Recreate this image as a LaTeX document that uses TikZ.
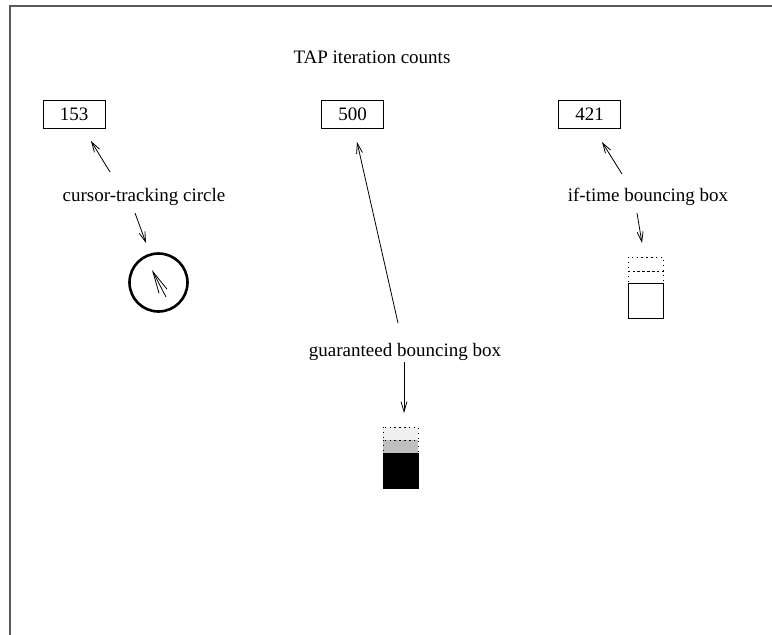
\documentclass[tikz,border=0pt]{standalone}
\usepackage{fontspec}
\setmainfont{Liberation Serif}
\usetikzlibrary{arrows.meta}
\begin{document}
\begin{tikzpicture}[x=1pt,y=-1pt,
  lbl/.style={font=\fontsize{19}{22}\selectfont, inner sep=0pt},
  numbox/.style={draw, line width=0.9pt, minimum width=62pt, minimum height=28pt, inner sep=0pt, font=\fontsize{19}{22}\selectfont},
  arr/.style={line width=0.8pt, -{Straight Barb[length=10pt,width=6pt]}},
  frameline/.style={line width=2pt, draw={black!65}},
  dotbox/.style={draw, line width=1pt, dash pattern=on 1.3pt off 3.6pt},
  solbox/.style={draw, line width=0.9pt}
]
\useasboundingbox (0,0) rectangle (772,635);
% frame (left and top edges)
\draw[frameline] (10,635) -- (10,6) -- (772,6);

% title
\node[lbl] (title) at (372,57) {TAP iteration counts};

% count boxes
\node[numbox] (b153) at (74,114) {153};
\node[numbox] (b500) at (352.5,114) {500};
\node[numbox] (b421) at (589.5,114) {421};

% labels
\node[lbl] (lcirc) at (144,197) {cursor-tracking circle};
\node[lbl] (lguar) at (405,352) {guaranteed bouncing box};
\node[lbl] (lif) at (648,197) {if-time bouncing box};

% circle
\node[draw, circle, line width=2.6pt, minimum size=58pt, inner sep=0pt] (circ) at (158.5,282.5) {};
\coordinate (cin1) at (166,297);
\coordinate (cin2) at (152,270);
\draw[line width=0.8pt, -{Straight Barb[length=22pt,width=9pt]}] (cin1) -- (cin2);

% arrow end points
\coordinate (a1s) at (110,172); \coordinate (a1e) at (91,141);
\coordinate (a2s) at (135,213); \coordinate (a2e) at (146,243);
\coordinate (a3s) at (398,323); \coordinate (a3e) at (357,142);
\coordinate (a4s) at (404,362); \coordinate (a4e) at (404,413);
\coordinate (a5s) at (622,174); \coordinate (a5e) at (602,142);
\coordinate (a6s) at (637,213); \coordinate (a6e) at (642,243);
\draw[arr] (a1s) -- (a1e);
\draw[arr] (a2s) -- (a2e);
\draw[arr] (a3s) -- (a3e);
\draw[arr] (a4s) -- (a4e);
\draw[arr] (a5s) -- (a5e);
\draw[arr] (a6s) -- (a6e);

% guaranteed bouncing box stack
\fill[black!6] (383,427) rectangle (418,440);
\fill[black!25] (383,440) rectangle (418,453);
\draw[dotbox] (383,427) rectangle (418,440);
\draw[dotbox] (383,440) rectangle (418,453);
\filldraw[solbox, fill=black] (383,453) rectangle (418,488);

% if-time bouncing box stack
\draw[dotbox] (628,257) rectangle (663,271);
\draw[dotbox] (628,271) rectangle (663,283);
\draw[solbox] (628,283) rectangle (663,318);
\end{tikzpicture}
\end{document}
